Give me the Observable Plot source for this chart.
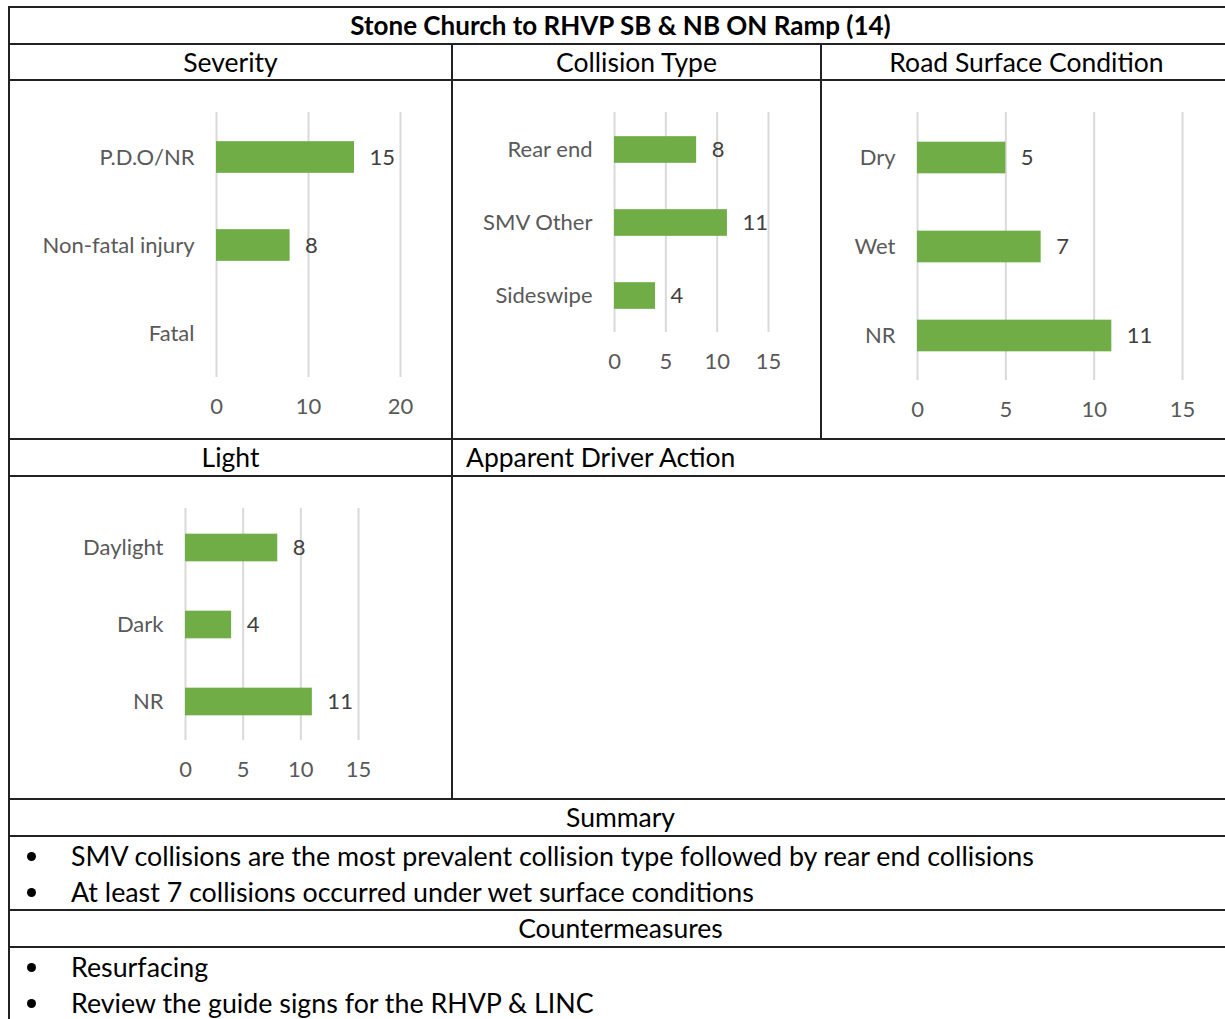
<!DOCTYPE html>
<html>
<head>
<meta charset="utf-8">
<script src="https://cdn.jsdelivr.net/npm/d3@7"></script>
<script src="https://cdn.jsdelivr.net/npm/@observablehq/plot@0.6"></script>
<style>
  html, body { margin: 0; padding: 0; background: #fff; overflow: hidden; }
  #page { position: relative; width: 1225px; height: 1019px; overflow: hidden; font-family: Lato, "Open Sans", sans-serif; color: #000; }
  .h { position: absolute; height: 2px; background: #222; }
  .v { position: absolute; width: 2px; background: #222; }
  .t { position: absolute; white-space: nowrap; font-size: 26.5px; }
  .c { text-align: center; }
  .dot { position: absolute; width: 9px; height: 9px; border-radius: 50%; background: #000; }
  .chart { position: absolute; }
  .chart svg { overflow: visible; }
</style>
</head>
<body>
<div id="page"></div>
<script>
// ---- data ----
const title = "Stone Church to RHVP SB & NB ON Ramp (14)";
const sectionHeaders = ["Severity", "Collision Type", "Road Surface Condition", "Light", "Apparent Driver Action", "Summary", "Countermeasures"];

const severityCats = ["P.D.O/NR", "Non-fatal injury", "Fatal"];
const severityValues = [15, 8, null];
const severityTicks = [0, 10, 20];

const collisionCats = ["Rear end", "SMV Other", "Sideswipe"];
const collisionValues = [8, 11, 4];
const collisionTicks = [0, 5, 10, 15];

const surfaceCats = ["Dry", "Wet", "NR"];
const surfaceValues = [5, 7, 11];
const surfaceTicks = [0, 5, 10, 15];

const lightCats = ["Daylight", "Dark", "NR"];
const lightValues = [8, 4, 11];
const lightTicks = [0, 5, 10, 15];

const summaryItems = [
  "SMV collisions are the most prevalent collision type followed by rear end collisions",
  "At least 7 collisions occurred under wet surface conditions"
];
const countermeasureItems = [
  "Resurfacing",
  "Review the guide signs for the RHVP & LINC"
];

// ---- table layout ----
const page = document.getElementById("page");
function el(cls, css, text) {
  const d = document.createElement("div");
  d.className = cls;
  Object.assign(d.style, css);
  if (text != null) d.textContent = text;
  page.appendChild(d);
  return d;
}
const RIGHT = 1232;
[7, 44, 80, 439, 476, 799, 836, 910, 947].forEach(y =>
  el("h", {left: "9px", top: (y - 1) + "px", width: (RIGHT - 9) + "px"}));
el("v", {left: "8px", top: "6px", height: "1013px"});
el("v", {left: "451px", top: "43px", height: "757px"});
el("v", {left: "820px", top: "43px", height: "397px"});

function rowText(text, x0, x1, y0, y1, opts = {}) {
  el("t" + (opts.left ? "" : " c"), {
    left: x0 + "px", width: (x1 - x0) + "px", top: y0 + "px",
    height: (y1 - y0) + "px", lineHeight: (y1 - y0) + "px",
    fontWeight: opts.bold ? "700" : "400",
    fontSize: (opts.size || 26.5) + "px",
    paddingLeft: (opts.pad || 0) + "px", boxSizing: "border-box"
  }, text);
}
rowText(title, 9, RIGHT, 7, 44, {bold: true, size: 26});
rowText(sectionHeaders[0], 9, 452, 44, 80);
rowText(sectionHeaders[1], 452, 821, 44, 80);
rowText(sectionHeaders[2], 821, RIGHT, 44, 80);
rowText(sectionHeaders[3], 9, 452, 439, 476);
rowText(sectionHeaders[4], 452, RIGHT, 439, 476, {left: true, pad: 14});
rowText(sectionHeaders[5], 9, RIGHT, 799, 836);
rowText(sectionHeaders[6], 9, RIGHT, 910, 947);

function bullets(items, yCenter0) {
  items.forEach((s, i) => {
    const yc = yCenter0 + i * 36;
    el("dot", {left: "27px", top: (yc - 4) + "px"});
    el("t", {left: "71px", top: (yc - 15) + "px", height: "30px", lineHeight: "30px", fontSize: "26.8px"}, s);
  });
}
bullets(summaryItems, 856);
bullets(countermeasureItems, 967);

// ---- charts ----
function drawChart(cats, vals, ticks, L) {
  const data = cats.map((c, i) => ({cat: c, value: vals[i]}));
  const W = L.right - L.left, H = L.bottom - L.top;
  const step = (L.gridBottom - L.gridTop) / cats.length;
  const inset = (step - L.barH) / 2;
  const fs = 22;
  const chart = Plot.plot({
    width: W, height: H,
    marginLeft: L.x0 - L.left, marginRight: L.right - L.xEnd,
    marginTop: L.gridTop - L.top, marginBottom: L.bottom - L.gridBottom,
    x: {domain: [ticks[0], ticks[ticks.length - 1]], label: null},
    y: {domain: cats, padding: 0, label: null},
    style: {fontFamily: "Lato, sans-serif", fontSize: fs + "px", color: "#595959", background: "transparent", overflow: "visible"},
    marks: [
      Plot.gridX({ticks, stroke: "#d9d9d9", strokeOpacity: 1, strokeWidth: 2}),
      Plot.barX(data, {x: "value", y: "cat", fill: "#70ad47", insetTop: inset, insetBottom: inset}),
      Plot.text(data, {x: "value", y: "cat", text: d => d.value, textAnchor: "start", dx: 15, fill: "#404040", fontSize: fs}),
      Plot.axisX({ticks, tickSize: 0, tickPadding: 21, fontSize: fs, label: null}),
      Plot.axisY({tickSize: 0, tickPadding: 22, fontSize: fs, label: null})
    ]
  });
  const holder = el("chart", {left: L.left + "px", top: L.top + "px", width: W + "px", height: H + "px"});
  holder.appendChild(chart);
}

drawChart(severityCats, severityValues, severityTicks,
  {left: 11, top: 82, right: 450, bottom: 437, x0: 216, xEnd: 400, gridTop: 112, gridBottom: 377, barH: 32});
drawChart(collisionCats, collisionValues, collisionTicks,
  {left: 454, top: 82, right: 819, bottom: 437, x0: 614, xEnd: 768, gridTop: 112, gridBottom: 332, barH: 27});
drawChart(surfaceCats, surfaceValues, surfaceTicks,
  {left: 823, top: 82, right: 1225, bottom: 437, x0: 917, xEnd: 1182, gridTop: 112, gridBottom: 380, barH: 32});
drawChart(lightCats, lightValues, lightTicks,
  {left: 11, top: 478, right: 450, bottom: 797, x0: 185, xEnd: 358, gridTop: 508, gridBottom: 740, barH: 28});
</script>
</body>
</html>
